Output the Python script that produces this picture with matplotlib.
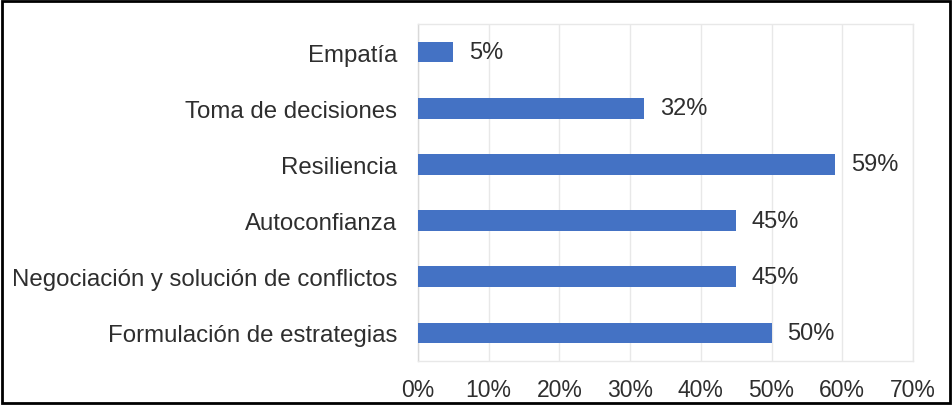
import matplotlib
matplotlib.use("Agg")
import matplotlib.pyplot as plt
from matplotlib.patches import Rectangle
from matplotlib.ticker import FuncFormatter, MultipleLocator

categories = ["Empatía", "Toma de decisiones", "Resiliencia", "Autoconfianza",
              "Negociación y solución de conflictos", "Formulación de estrategias"]
values = [5, 32, 59, 45, 45, 50]
labels = ["5%", "32%", "59%", "45%", "45%", "50%"]

plt.rcParams['font.family'] = ['Liberation Sans', 'DejaVu Sans']
text_color = "#2E2E2E"
grid_color = "#E8E8E8"

fig = plt.figure(figsize=(9.52, 4.06), dpi=100)
ax = fig.add_axes([418/952, 1-362/406, (913-418)/952, (362-25)/406])

ypos = list(range(len(categories)))
ax.barh(ypos, values, height=0.37, color="#4472C4", zorder=3)
for y, v, l in zip(ypos, values, labels):
    ax.text(v + 2.2, y, l, va="center", ha="left", fontsize=17, color=text_color)

ax.set_yticks(ypos)
ax.set_yticklabels(categories, fontsize=17.3, color=text_color)
ax.set_ylim(len(categories) - 0.5, -0.5)
ax.set_xlim(0, 70)
ax.xaxis.set_major_locator(MultipleLocator(10))
ax.xaxis.set_major_formatter(FuncFormatter(lambda x, p: f"{int(round(x))}%"))
ax.tick_params(axis='x', labelsize=16.5, colors=text_color, length=0, pad=12)
ax.tick_params(axis='y', length=0, pad=15)
ax.grid(axis='x', color=grid_color, linewidth=1, zorder=0)
for s in ax.spines.values():
    s.set_color(grid_color)
    s.set_linewidth(1)
ax.spines['left'].set_color("#D9D9D9")

fig.patches.append(Rectangle((0.002, 0.004), 0.996, 0.99, transform=fig.transFigure,
                             fill=False, edgecolor="black", linewidth=2))

fig.savefig("out.png", dpi=100)
